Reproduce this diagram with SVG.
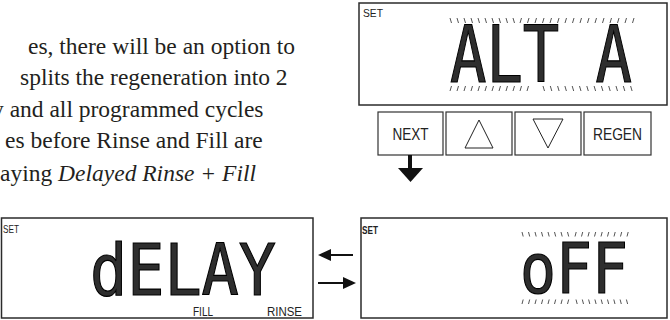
<svg xmlns="http://www.w3.org/2000/svg" width="670" height="320" viewBox="0 0 670 320">
<style>
.body{font-family:"Liberation Serif","Times New Roman",serif;font-size:23.5px;fill:#231f20}
.lcd{fill:#fff;stroke:#2b2b2b;stroke-width:1.5}
.btn{fill:#fff;stroke:#333;stroke-width:1.2}
.lbl{font-family:"Liberation Sans",Arial,sans-serif;fill:#222}
.seg{font-family:"DejaVu Sans Mono",monospace;fill:#2e2e2e;stroke:#000;stroke-width:1.2}
.tick{fill:none;stroke:#555;stroke-width:1}
.arr{stroke:#111;stroke-width:2;fill:none}
.head{fill:#111}
</style>
<rect width="670" height="320" fill="#fff"/>
<g id="text-block" class="body">
<text x="28" y="54">es, there will be an option to</text>
<text x="20" y="85">splits the regeneration into 2</text>
<text x="-8" y="117">y and all programmed cycles</text>
<text x="5" y="148">es before Rinse and Fill are</text>
<text x="0" y="181">aying <tspan font-style="italic">Delayed Rinse + Fill</tspan></text>
</g>
<g id="display-alt">
<rect class="lcd" x="359" y="3" width="308" height="102"/>
<text class="lbl" x="363" y="17" font-size="11" textLength="20" lengthAdjust="spacingAndGlyphs">SET</text>
<text class="seg" x="450" y="82" font-size="78" textLength="182" lengthAdjust="spacingAndGlyphs">ALT A</text>
<path class="tick" d="M450,18l1.5,5m5.5,-5l1.5,5m5.5,-5l1.5,5m5.5,-5l1.5,5m5.5,-5l1.5,5m5.5,-5l1.5,5m5.5,-5l1.5,5m5.5,-5l1.5,5m5.5,-5l1.5,5m5.5,-5l1.5,5 M520,23l1.5,-5m6,5l1.5,-5m6,5l1.5,-5m6,5l1.5,-5m6,5l1.5,-5m6,5l1.5,-5m6,5l1.5,-5m6,5l1.5,-5m6,5l1.5,-5m6,5l1.5,-5m6,5l1.5,-5m6,5l1.5,-5m6,5l1.5,-5m6,5l1.5,-5m6,5l1.5,-5m6,5l1.5,-5 M450,91l1.5,-5m5.5,5l1.5,-5m5.5,5l1.5,-5m5.5,5l1.5,-5m5.5,5l1.5,-5m5.5,5l1.5,-5m5.5,5l1.5,-5m5.5,5l1.5,-5m5.5,5l1.5,-5m5.5,5l1.5,-5m5.5,5l1.5,-5m5.5,5l1.5,-5 M543,86l1.5,5m5.8,-5l1.5,5m5.8,-5l1.5,5m5.8,-5l1.5,5m5.8,-5l1.5,5m5.8,-5l1.5,5m5.8,-5l1.5,5m5.8,-5l1.5,5m5.8,-5l1.5,5m5.8,-5l1.5,5m5.8,-5l1.5,5m5.8,-5l1.5,5m5.8,-5l1.5,5"/>
</g>
<g id="btn-next">
<rect class="btn" x="378" y="112" width="65" height="43" stroke-width="2"/>
<text class="lbl" x="410.5" y="140" font-size="16.5" text-anchor="middle" textLength="36" lengthAdjust="spacingAndGlyphs">NEXT</text>
</g>
<g id="btn-up">
<rect class="btn" x="446" y="112" width="66" height="43"/>
<polygon points="479,120 493,148 465,148" fill="none" stroke="#222" stroke-width="1"/>
</g>
<g id="btn-down">
<rect class="btn" x="515" y="112" width="66" height="43"/>
<polygon points="533,119 563,119 548,148" fill="none" stroke="#222" stroke-width="1"/>
</g>
<g id="btn-regen">
<rect class="btn" x="584" y="112" width="67" height="43"/>
<text class="lbl" x="617.5" y="140" font-size="16.5" text-anchor="middle" textLength="49" lengthAdjust="spacingAndGlyphs">REGEN</text>
</g>
<g id="display-delay">
<rect class="lcd" x="1.5" y="218" width="311.5" height="100"/>
<text class="lbl" x="3" y="233" font-size="11" textLength="16" lengthAdjust="spacingAndGlyphs">SET</text>
<text class="seg" x="90" y="295" font-size="72" textLength="186" lengthAdjust="spacingAndGlyphs">dELAY</text>
<text class="lbl" x="193" y="316" font-size="13" textLength="20" lengthAdjust="spacingAndGlyphs">FILL</text>
<text class="lbl" x="267" y="316" font-size="13" textLength="35" lengthAdjust="spacingAndGlyphs">RINSE</text>
</g>
<g id="display-off">
<rect class="lcd" x="361" y="218" width="306" height="100"/>
<text class="lbl" x="362" y="234" font-size="11" font-weight="bold" textLength="16" lengthAdjust="spacingAndGlyphs">SET</text>
<text class="seg" x="520" y="293" font-size="70" textLength="108" lengthAdjust="spacingAndGlyphs">oFF</text>
<path class="tick" d="M522,232l1.2,4.5m5.3,-4.5l1.2,4.5m5.3,-4.5l1.2,4.5m5.3,-4.5l1.2,4.5m5.3,-4.5l1.2,4.5m5.3,-4.5l1.2,4.5m5.3,-4.5l1.2,4.5m5.3,-4.5l1.2,4.5 M575,236.5l1.2,-4.5m5.3,4.5l1.2,-4.5m5.3,4.5l1.2,-4.5m5.3,4.5l1.2,-4.5m5.3,4.5l1.2,-4.5m5.3,4.5l1.2,-4.5m5.3,4.5l1.2,-4.5m5.3,4.5l1.2,-4.5m5.3,4.5l1.2,-4.5 M522,304l1.2,-4.5m5.3,4.5l1.2,-4.5m5.3,4.5l1.2,-4.5m5.3,4.5l1.2,-4.5m5.3,4.5l1.2,-4.5m5.3,4.5l1.2,-4.5m5.3,4.5l1.2,-4.5m5.3,4.5l1.2,-4.5 M576,299.5l1.2,4.5m5.1,-4.5l1.2,4.5m5.1,-4.5l1.2,4.5m5.1,-4.5l1.2,4.5m5.1,-4.5l1.2,4.5m5.1,-4.5l1.2,4.5m5.1,-4.5l1.2,4.5m5.1,-4.5l1.2,4.5m5.1,-4.5l1.2,4.5"/>
</g>
<g id="connectors">
<rect x="408" y="155" width="4" height="14" fill="#111"/>
<polygon class="head" points="398,168 423,168 410.5,182"/>
<line class="arr" x1="329" y1="255" x2="353" y2="255"/>
<polygon class="head" points="318,255 331,249 331,261"/>
<line class="arr" x1="318" y1="283" x2="344" y2="283"/>
<polygon class="head" points="356,283 343,277 343,289"/>
</g>
</svg>
